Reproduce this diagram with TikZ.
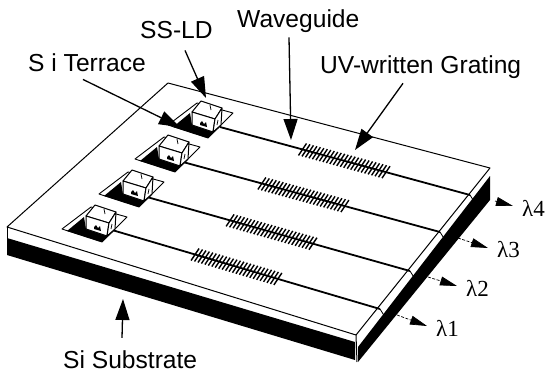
\documentclass[tikz,border=0pt]{standalone}
\usepackage{fontspec}
\setmainfont{Liberation Sans}
\newfontfamily\lamfont{Liberation Serif}
\usetikzlibrary{arrows.meta,calc,positioning}
\tikzset{
 lbl/.style={anchor=base west,inner sep=0pt,font=\fontsize{24.6}{28}\selectfont},
 lamlbl/.style={inner sep=0pt,font=\lamfont\fontsize{23}{26}\selectfont},
 ptr/.style={line width=1.3pt,-{Triangle[length=21pt,width=14pt]}},
 lamptr/.style={line width=.7pt,dash pattern=on 3pt off 1.5pt,-{Triangle[length=17pt,width=9pt]}},
 edge/.style={line width=1pt},
 guide/.style={line width=1.8pt},
 tooth/.style={line width=1.4pt}
}
\begin{document}
\begin{tikzpicture}[x=1pt,y=-1pt,line join=round]
 \useasboundingbox (0,0) rectangle (547,373);
 \coordinate (back) at (168,83);
 \coordinate (right) at (490,168);
 \coordinate (front) at (356,335);
 \coordinate (left) at (7,227);
 \fill (7,238) -- (355,342) -- (355,360) -- (7,255) -- cycle;
 \fill (358,347) -- (490,176) -- (490,200) -- (358,362) -- cycle;
 \draw [edge] (back) -- (right) -- (front) -- (left) -- cycle;
 \draw [edge] (left) -- (7,238);
 \draw [edge] (front) -- (357,362);
 \foreach \n/\dx/\dy/\xs/\ys/\xe/\ye/\ga/\gb in {
  4/0/0/220/127/470/195/.33/.664,
  3/-33/34/183/162/440/232/.307/.63,
  2/-69/69/147/197/410/271/.316/.631,
  1/-106/104/112/230/380/309/.31/.619} {
  \coordinate (wgs\n) at (\xs,\ys);
  \coordinate (wge\n) at (\xe,\ye);
  \draw [guide] (wgs\n) -- (wge\n);
  \draw [line width=.8pt] (wge\n) -- ++(5,8);
  \foreach \k in {0,...,24} {
   \coordinate (gr) at ($(wgs\n)!{\ga+(\gb-\ga)*\k/24}!(wge\n)$);
   \draw [tooth] ([shift={(-4,6)}]gr) -- ([shift={(4,-6)}]gr);
  }
  \begin{scope}[shift={(\dx,\dy)}]
   \draw [line width=.9pt] (168,125) -- (197,103) -- (233,113) -- (208,138) -- cycle;
   \fill (173,127) -- (190,113) -- (192,125) -- (213,132) -- (221,126) -- (208,138) -- cycle;
   \draw [fill=white,line width=1pt] (192,112) -- (201,101) -- (222,108) -- (215,119) -- cycle;
   \draw [fill=white,line width=1pt] (192,112) -- (215,119) -- (213,132) -- (192,125) -- cycle;
   \draw [fill=white,line width=1pt] (215,119) -- (222,108) -- (221,125) -- (213,132) -- cycle;
   \fill (200,123) -- (202,121) -- (204,124) -- (206,122) -- (207,127) -- (200,125) -- cycle;
   \draw [line width=.7pt] (210,105) -- (211,110);
   \draw [line width=.7pt] (218,120) -- (217,125);
  \end{scope}
 }
 \node [lbl] (ssld) at (140,38) {SS-LD};
 \node [lbl] (terrace) at (28,71) {S i Terrace};
 \node [lbl] (waveguide) at (237,27) {Waveguide};
 \node [lbl] (grating) at (320,73) {UV-written Grating};
 \node [lbl] (substrate) at (63,368) {Si Substrate};
 \coordinate (ssldtip) at (206,98);
 \coordinate (terracetip) at (180,127);
 \coordinate (wgtip) at (291,140);
 \coordinate (gratingtip) at (355,150);
 \coordinate (substratetip) at (123,299);
 \draw [ptr] ([xshift=45pt,yshift=-12pt]ssld.south west) -- (ssldtip);
 \draw [ptr] ([xshift=55pt,yshift=-8pt]terrace.south west) -- (terracetip);
 \draw [ptr] ([xshift=52pt,yshift=-5pt]waveguide.south west) -- (wgtip);
 \draw [ptr] ([xshift=83pt,yshift=-5pt]grating.south west) -- (gratingtip);
 \draw [ptr] ([xshift=59pt,yshift=12pt]substrate.north west) -- (substratetip);
 \foreach \n/\xs/\ys/\xt/\yt in {1/397/315/427/326,2/428/277/457/286,3/458/238/488/248,4/495/201/513/206} {
  \coordinate (lams\n) at (\xs,\ys);
  \coordinate (lamt\n) at (\xt,\yt);
  \draw [lamptr] (lams\n) -- (lamt\n);
  \node [lamlbl,right=9pt of lamt\n,yshift=-2pt] (lam\n) {λ\n};
 }
\end{tikzpicture}
\end{document}
